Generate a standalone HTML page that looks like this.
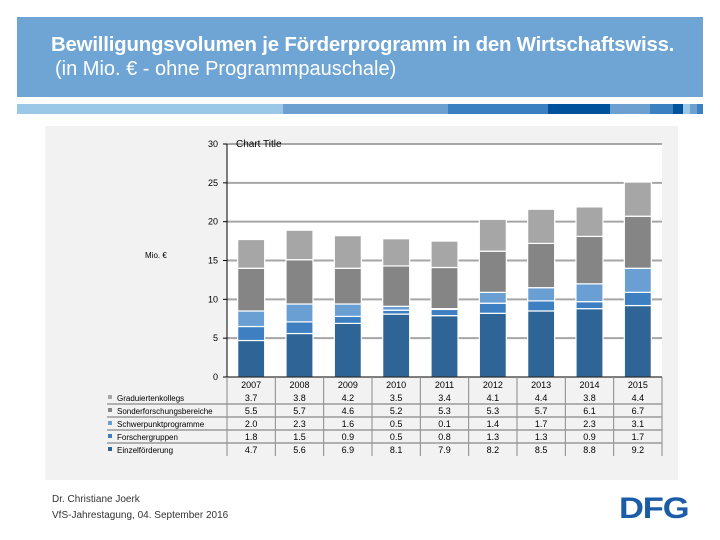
<!DOCTYPE html>
<html><head><meta charset="utf-8"><style>
body{margin:0;width:720px;height:540px;background:#fff;position:relative;overflow:hidden;font-family:"Liberation Sans",sans-serif}
.hdr{position:absolute;left:17px;top:17px;width:686px;height:80px;background:#6fa5d4;color:#fff}
.t1{position:absolute;left:34px;top:17px;font-size:20.4px;font-weight:bold;letter-spacing:-0.2px;white-space:nowrap}
.t2{position:absolute;left:38px;top:41px;font-size:20px;white-space:nowrap}
.stripe{position:absolute;top:104px;height:10px}
.panel{position:absolute;left:45px;top:126px;width:633px;height:354px;background:#f2f2f2}
.foot{position:absolute;left:52px;font-size:10px;color:#333}
</style></head><body>
<div class="hdr">
<div class="t1">Bewilligungsvolumen je Förderprogramm in den Wirtschaftswiss.</div>
<div class="t2">(in Mio. € - ohne Programmpauschale)</div>
</div>
<div class="stripe" style="left:17px;width:266px;background:#9cc8e8"></div>
<div class="stripe" style="left:283px;width:165px;background:#6ca0d0"></div>
<div class="stripe" style="left:448px;width:100px;background:#3b80c0"></div>
<div class="stripe" style="left:548px;width:62px;background:#00539b"></div>
<div class="stripe" style="left:610px;width:40px;background:#6ca0d0"></div>
<div class="stripe" style="left:650px;width:23px;background:#3b80c0"></div>
<div class="stripe" style="left:673px;width:10px;background:#00539b"></div>
<div class="stripe" style="left:683px;width:7px;background:#9cc8e8"></div>
<div class="stripe" style="left:690px;width:7px;background:#6ca0d0"></div>
<div class="stripe" style="left:697px;width:6px;background:#3b80c0"></div>
<div class="panel"></div>
<svg id="chart" width="720" height="540" style="position:absolute;left:0;top:0"></svg>
<div class="foot" style="top:494px">Dr. Christiane Joerk</div>
<div class="foot" style="top:510px">VfS-Jahrestagung, 04. September 2016</div>
<div style="position:absolute;left:619px;top:492px;font-size:30px;font-weight:bold;color:#1a5ca8;letter-spacing:-1px;transform:scaleX(1.15);transform-origin:left">DFG</div>
<script>
const years=["2007","2008","2009","2010","2011","2012","2013","2014","2015"];
const einzel=[4.7,5.6,6.9,8.1,7.9,8.2,8.5,8.8,9.2];
const forscher=[1.8,1.5,0.9,0.5,0.8,1.3,1.3,0.9,1.7];
const schwer=[2.0,2.3,1.6,0.5,0.1,1.4,1.7,2.3,3.1];
const sfb=[5.5,5.7,4.6,5.2,5.3,5.3,5.7,6.1,6.7];
const grad=[3.7,3.8,4.2,3.5,3.4,4.1,4.4,3.8,4.4];
const yTicks=[0,5,10,15,20,25,30];
const seriesNames=["Einzelförderung","Forschergruppen","Schwerpunktprogramme","Sonderforschungsbereiche","Graduiertenkollegs"];
const colors=["#2e6496","#3d7fc1","#6a9fd4","#858585","#a6a6a6"];
const NS="http://www.w3.org/2000/svg",svg=document.getElementById('chart');
const X0=227,X1=662,Y0=377,Y30=144,cw=(X1-X0)/years.length,bw=27;
const y=v=>Y0-(v/30)*(Y0-Y30);
const xc=i=>X0+cw*(i+0.5);
function mk(t,a,txt){const e=document.createElementNS(NS,t);for(const k in a)e.setAttribute(k,a[k]);if(txt!==undefined)e.textContent=txt;svg.appendChild(e);return e;}
let e=mk('rect',{x:X0,y:Y30,width:X1-X0,height:Y0-Y30,fill:'#fff'});


yTicks.forEach(t=>{
 if(t>0){e=mk('line',{x1:X0,x2:X1,y1:y(t),y2:y(t),stroke:'#a6a6a6','stroke-width':2});
 
 }
 e=mk('text',{x:218,y:y(t)+3,'font-size':9,'text-anchor':'end',fill:'#000'},t);
 
 
 mk('line',{x1:X0-4,x2:X0,y1:y(t),y2:y(t),stroke:'#000'});
});
e=mk('text',{x:236,y:147,'font-size':10,fill:'#000'},'Chart Title');


e=mk('text',{x:145,y:258,'font-size':8,fill:'#000'},'Mio. €');


const series=[einzel,forscher,schwer,sfb,grad];
years.forEach((yr,i)=>{
 let base=0;
 series.forEach((s,k)=>{
  const top=base+s[i];
  e=mk('rect',{x:xc(i)-bw/2,y:y(top),width:bw,height:y(base)-y(top),fill:colors[k],stroke:'#fff','stroke-width':1.2});
  
  
  base=top;
 });
});
mk('line',{x1:X0,x2:X0,y1:Y30,y2:Y0,stroke:'#000'});
mk('line',{x1:X0,x2:X1,y1:Y0,y2:Y0,stroke:'#000'});
for(let i=0;i<=years.length;i++)mk('line',{x1:X0+cw*i,x2:X0+cw*i,y1:Y0,y2:456,stroke:'#888','stroke-width':1});
years.forEach((yr,i)=>{e=mk('text',{x:xc(i),y:388,'font-size':9,'text-anchor':'middle'},yr);
 
 });
const rows=[grad,sfb,schwer,forscher,einzel];
const rowNames=["Graduiertenkollegs","Sonderforschungsbereiche","Schwerpunktprogramme","Forschergruppen","Einzelförderung"];
const rowCols=["#a6a6a6","#858585","#6a9fd4","#3d7fc1","#2e6496"];
rows.forEach((r,j)=>{
 const ry=401+j*13;
 mk('line',{x1:107,x2:X1,y1:ry-10,y2:ry-10,stroke:'#999','stroke-width':j==0?0:1.5});
 e=mk('rect',{x:108,y:ry-6,width:4,height:4,fill:rowCols[j]});
 
 
 e=mk('text',{x:117,y:ry,'font-size':8,fill:'#000'},rowNames[j]);
 
 
 r.forEach((v,i)=>{e=mk('text',{x:xc(i),y:ry,'font-size':9,'text-anchor':'middle'},v.toFixed(1));
  
  });
});
</script>
</body></html>
